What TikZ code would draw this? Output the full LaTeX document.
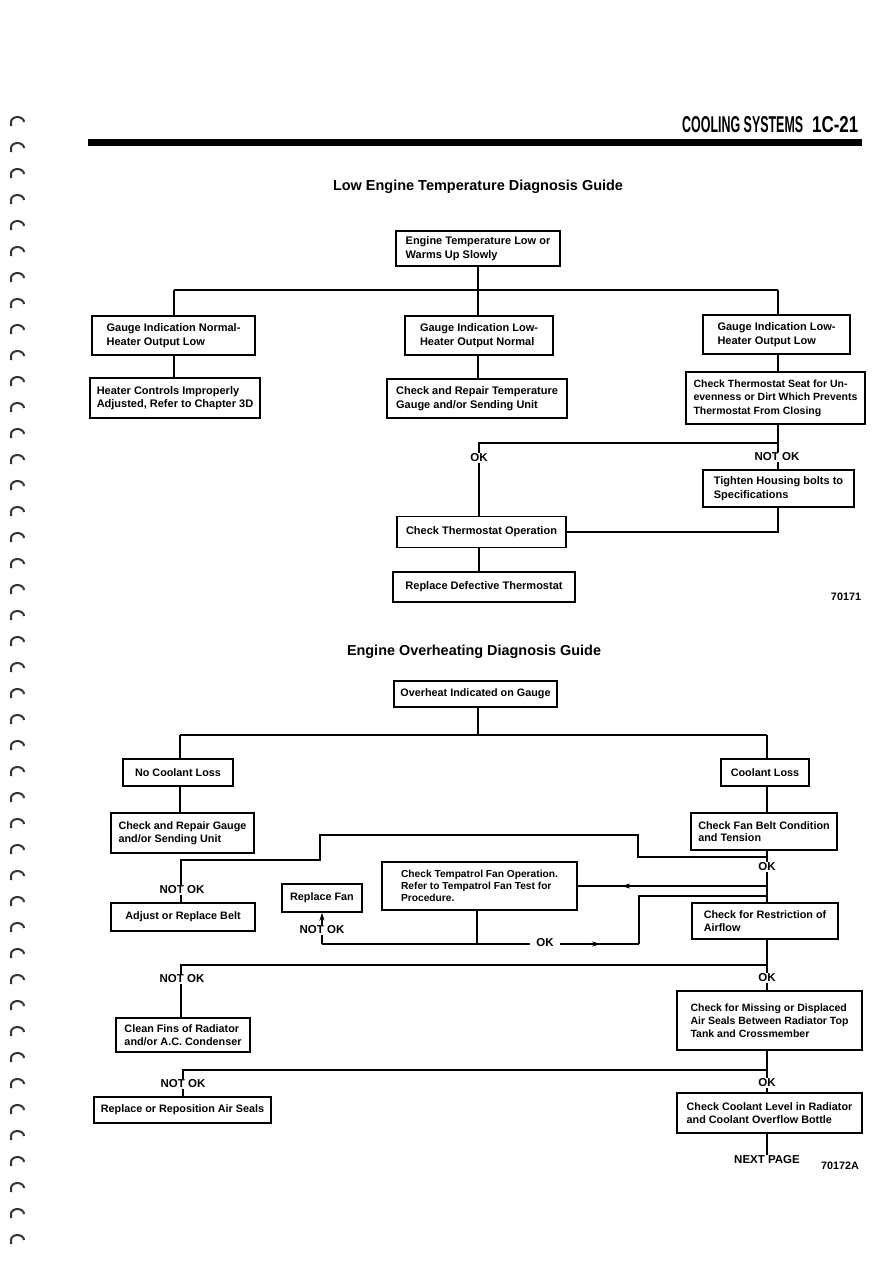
\documentclass[tikz,border=0pt]{standalone}
\usepackage{fontspec}
\setmainfont{Liberation Sans}
\usetikzlibrary{arrows.meta,decorations.markings}
\tikzset{
  box/.style={draw, line width=1.6pt, fill=white, inner sep=1pt, align=left,
    font=\bfseries\fontsize{11}{13.5}\selectfont},
  bbox/.style={box, line width=1.4pt, font=\bfseries\fontsize{10.8}{12.5}\selectfont},
  conn/.style={line width=1.2pt},
  lbl/.style={fill=white, inner sep=0.6pt, font=\bfseries\fontsize{11.5}{12}\selectfont},
  tip/.style={-{Stealth[length=8pt,width=5pt]}},
  midarrow/.style={decoration={markings, mark=at position #1 with {\arrow{Stealth[length=9pt,width=5pt]}}}, postaction=decorate},
  ring/.style={line width=2pt, black!80},
  title/.style={font=\bfseries\fontsize{12.5}{14}\selectfont},
  code/.style={font=\bfseries\fontsize{10.8}{12}\selectfont}
}
\begin{document}
\begin{tikzpicture}[x=1pt,y=-1pt]
\useasboundingbox (0,0) rectangle (893,1263);
\fill[white] (0,0) rectangle (893,1263);

% binding marks
\foreach \y in {122,148,...,1240} {
  \draw[ring] (11,\y+4) -- (11,\y) arc[start angle=180, end angle=360, x radius=6.5, y radius=5];
}

% header
\node[anchor=base west, inner sep=0] (hd) at (682,132) {\resizebox{121pt}{16pt}{\bfseries COOLING SYSTEMS}};
\node[anchor=base west, inner sep=0] (pg) at (812,132) {\resizebox{46pt}{16pt}{\bfseries 1C-21}};
\fill (88,139) rectangle (862,146);

% ---------------- Low Engine Temperature ----------------
\node[title] (t1) at (478,187) {\resizebox{290pt}{!}{Low Engine Temperature Diagnosis Guide}};

\node[box, minimum width=164pt, minimum height=35pt] (A) at (478,248.5) {Engine Temperature Low or\\Warms Up Slowly};
\node[box, minimum width=163pt, minimum height=39pt] (B1) at (173.5,335.5) {Gauge Indication Normal-\\Heater Output Low};
\node[box, minimum width=148pt, minimum height=39pt] (B2) at (479,335.5) {Gauge Indication Low-\\Heater Output Normal};
\node[box, minimum width=147pt, minimum height=39pt] (B3) at (776.5,334.5) {Gauge Indication Low-\\Heater Output Low};
\node[box, minimum width=170pt, minimum height=40pt] (C1) at (175,398) {Heater Controls Improperly\\Adjusted, Refer to Chapter 3D};
\node[box, minimum width=180pt, minimum height=39pt] (C2) at (477,398.5) {Check and Repair Temperature\\Gauge and/or Sending Unit};
\node[box, minimum width=179pt, minimum height=52pt, font=\bfseries\fontsize{10.5}{13.5}\selectfont] (C3) at (775.5,398) {Check Thermostat Seat for Un-\\evenness or Dirt Which Prevents\\Thermostat From Closing};
\node[box, minimum width=151pt, minimum height=37pt] (E) at (778.5,488.5) {Tighten Housing bolts to\\Specifications};
\node[box, minimum width=169pt, minimum height=31pt] (D) at (481.5,532) {Check Thermostat Operation};
\node[box, minimum width=182pt, minimum height=30pt] (F) at (484,587) {Replace Defective Thermostat};

\coordinate (tl) at (174,290);
\coordinate (tm) at (478,290);
\coordinate (tr) at (778,290);
\coordinate (okr) at (778,443);
\coordinate (okl) at (479,443);

\draw[conn] (A.south -| tm) -- (B2.north -| tm);
\draw[conn] (tl) -- (tr);
\draw[conn] (tl) -- (tl |- B1.north);
\draw[conn] (tr) -- (tr |- B3.north);
\draw[conn] (B1.south -| tl) -- (C1.north -| tl);
\draw[conn] (B2.south -| tm) -- (C2.north -| tm);
\draw[conn] (B3.south -| tr) -- (C3.north -| tr);
\draw[conn] (C3.south -| tr) -- (E.north -| tr);
\draw[conn] (okr) -- (okl) -- (okl |- D.north);
\draw[conn] (E.south -| tr) |- (D.east);
\draw[conn] (D.south -| okl) -- (F.north -| okl);
\node[lbl] (ok1) at (479,458) {OK};
\node[lbl] (nok1) at (777,457) {NOT OK};
\node[code] (n1) at (846,597) {70171};

% ---------------- Engine Overheating ----------------
\node[title] (t2) at (474,652) {\resizebox{254pt}{!}{Engine Overheating Diagnosis Guide}};

\node[bbox, minimum width=163pt, minimum height=26pt] (G) at (475.5,694) {Overheat Indicated on Gauge};
\node[bbox, minimum width=110pt, minimum height=27pt] (H1) at (178,772.5) {No Coolant Loss};
\node[bbox, minimum width=88pt, minimum height=27pt] (H2) at (765,772.5) {Coolant Loss};
\node[bbox, minimum width=143pt, minimum height=40pt] (I1) at (182.5,833) {Check and Repair Gauge\\and/or Sending Unit};
\node[bbox, minimum width=146pt, minimum height=37pt] (I2) at (764,831.5) {Check Fan Belt Condition\\and Tension};
\node[bbox, minimum width=195pt, minimum height=48pt, font=\bfseries\fontsize{10.2}{12}\selectfont] (K) at (479.5,886) {Check Tempatrol Fan Operation.\\Refer to Tempatrol Fan Test for\\Procedure.};
\node[bbox, minimum width=80pt, minimum height=28pt] (L) at (322,898) {Replace Fan};
\node[bbox, minimum width=144pt, minimum height=28pt] (M) at (183,917) {Adjust or Replace Belt};
\node[bbox, minimum width=146pt, minimum height=36pt] (J) at (765,921) {Check for Restriction of\\Airflow};
\node[bbox, minimum width=134pt, minimum height=34pt] (N) at (183,1035) {Clean Fins of Radiator\\and/or A.C. Condenser};
\node[bbox, minimum width=185pt, minimum height=59pt, font=\bfseries\fontsize{10.5}{13}\selectfont] (O) at (769.5,1020.5) {Check for Missing or Displaced\\Air Seals Between Radiator Top\\Tank and Crossmember};
\node[bbox, minimum width=177pt, minimum height=26pt] (P) at (182.5,1110) {Replace or Reposition Air Seals};
\node[bbox, minimum width=185pt, minimum height=40pt] (Q) at (769.5,1113) {Check Coolant Level in Radiator\\and Coolant Overflow Bottle};

\coordinate (bm) at (478,735);
\coordinate (bl) at (180,735);
\coordinate (br) at (767,735);
\draw[conn] (G.south -| bm) -- (bm);
\draw[conn] (bl) -- (br);
\draw[conn] (bl) -- (bl |- H1.north);
\draw[conn] (br) -- (br |- H2.north);
\draw[conn] (H1.south -| bl) -- (I1.north -| bl);
\draw[conn] (H2.south -| br) -- (I2.north -| br);
\draw[conn] (I2.south -| br) -- (J.north -| br);

% fan belt NOT OK path
\coordinate (p1) at (767,857);
\coordinate (p2) at (638,857);
\coordinate (p3) at (638,835);
\coordinate (p4) at (320,835);
\coordinate (p5) at (320,860);
\coordinate (p6) at (181,860);
\draw[conn] (p1) -- (p2) -- (p3) -- (p4) -- (p5) -- (p6) -- (M.north -| p6);

% fan belt OK -> Tempatrol
\coordinate (q1) at (767,886);
\draw[conn, midarrow=0.77] (q1) -- (K.east);

% Tempatrol results
\coordinate (r0) at (322,944);
\coordinate (r1) at (477,944);
\coordinate (r2) at (639,944);
\coordinate (r3) at (639,896);
\coordinate (r4) at (767,896);
\draw[conn] (K.south -| r1) -- (r1);
\draw[conn, midarrow=0.88] (r0) -- (r2);
\draw[conn] (r2) -- (r3) -- (r4);
\node[lbl, inner xsep=6pt] (ok3) at (545,943) {OK};
\node[lbl] (nok3) at (322,930) {NOT OK};
\draw[conn] (r0) -- (nok3.south);
\draw[conn, tip] (nok3.north) -- (L.south);

% restriction of airflow
\coordinate (s0) at (181,965);
\coordinate (s1) at (767,965);
\draw[conn] (J.south -| s1) -- (s1) -- (s0) -- (N.north -| s0);
\draw[conn] (s1) -- (O.north -| s1);

% air seals
\coordinate (u0) at (183,1070);
\coordinate (u1) at (767,1070);
\draw[conn] (O.south -| u1) -- (u1) -- (u0) -- (P.north -| u0);
\draw[conn] (u1) -- (Q.north -| u1);

\node[lbl] (np) at (767,1160) {NEXT PAGE};
\draw[conn] (Q.south -| u1) -- (np.north);

\node[lbl] (ok2) at (767,867) {OK};
\node[lbl] (nok2) at (182,890) {NOT OK};
\node[lbl] (nok4) at (182,979) {NOT OK};
\node[lbl] (ok4) at (767,978) {OK};
\node[lbl] (nok5) at (183,1084) {NOT OK};
\node[lbl] (ok5) at (767,1083) {OK};
\node[code] (n2) at (840,1166) {70172A};
\end{tikzpicture}
\end{document}
